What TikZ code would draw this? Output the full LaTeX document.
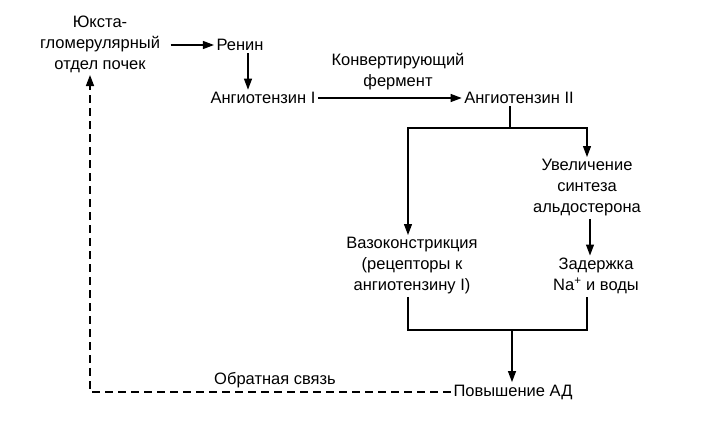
\documentclass[tikz,border=0pt]{standalone}
\usepackage{fontspec}
\setmainfont{Liberation Sans}
\usetikzlibrary{arrows.meta}
\begin{document}
\begin{tikzpicture}[x=1pt,y=-1pt,line width=1.2pt,
  every node/.style={align=center,inner sep=2pt,font=\fontsize{16.5}{21}\selectfont},
  arr/.style={-{Triangle[length=11pt,width=8pt]}},
  fb/.style={dash pattern=on 8pt off 5pt,line width=1.5pt}]
\useasboundingbox (0,0) rectangle (701,429);
\node (jg) at (100,44) {Юкста-\\гломерулярный\\отдел почек};
\node (renin) at (240,45) {Ренин};
\node (ang1) at (263,98) {Ангиотензин I};
\node (conv) at (398,72) {Конвертирующий\\фермент};
\node (ang2) at (519,98) {Ангиотензин II};
\node (aldo) at (587,188) {Увеличение\\синтеза\\альдостерона};
\node (vaso) at (412,266) {Вазоконстрикция\\(рецепторы к\\ангиотензину I)};
\node (zad) at (596,276) {Задержка\\Na\textsuperscript{+} и воды};
\node (bp) at (513,392) {Повышение АД};
\node (obr) at (275,380) {Обратная связь};
\coordinate (split) at (510,128);
\coordinate (merge) at (512,330);
\coordinate (corner) at (90,392);
\draw[arr] ([xshift=8]jg.east |- renin) -- (renin);
\draw[arr] ([xshift=8]renin.south) -- ([xshift=8]renin.south |- ang1.north);
\draw[arr] (ang1) -- (ang2);
\draw (ang2.south -| split) -- (split);
\draw[arr] (split) -| ([xshift=-4]vaso.north);
\draw[arr] (split) -| (aldo.north);
\draw[arr] ([xshift=3]aldo.south) -- ([xshift=3]aldo.south |- zad.north);
\draw ([xshift=-4]vaso.south) -- ([xshift=-4]vaso.south |- merge) -- (aldo.south |- merge) -- (aldo.south |- zad.south);
\draw[arr] (merge) -- (merge |- bp.north);
\draw[arr,fb] (bp.west) -- (corner) -- (corner |- jg.south);
\end{tikzpicture}
\end{document}
